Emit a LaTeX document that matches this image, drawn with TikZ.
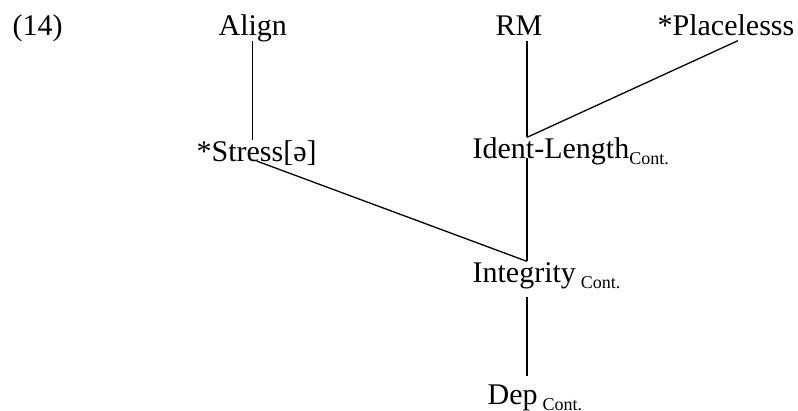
\documentclass[tikz,border=0pt]{standalone}
\usepackage{fontspec}
\setmainfont{Liberation Serif}
\usetikzlibrary{calc}

\newcommand{\cont}{\raisebox{-6pt}{\fontsize{18}{20}\selectfont Cont.}}

\begin{document}
\begin{tikzpicture}[x=1pt,y=-1pt,line width=1.3pt,
	lbl/.style={anchor=base west, inner sep=0pt, text height=20pt, text depth=5pt,
		font=\fontsize{30}{36}\selectfont}]

	\useasboundingbox (0,0) rectangle (798,410);

	\coordinate (trunk) at (527,0);

	\node[lbl] (num) at (12,35) {(14)};
	\node[lbl] (align) at (218,35) {Align};
	\node[lbl] (rm) at (495,35) {RM};
	\node[lbl] (place) at (657,35) {*Placelesss};

	\node[lbl] (stress) at (196,161) {*Stress[ə]};
	\node[lbl] (ident) at (472,158) {Ident-Length\cont};

	\node[lbl] (integrity) at (472,282) {Integrity\,\cont};
	\node[lbl] (dep) at (487,404) {Dep\,\cont};

	\draw (align.south) -- (align.south |- stress.north);
	\draw (rm.south -| trunk) -- (ident.north -| trunk);
	\draw ($(place.south)+(12,0)$) -- (ident.north -| trunk);

	\draw (stress.base) -- (integrity.north -| trunk);
	\draw (ident.base -| trunk) -- (integrity.north -| trunk);
	\draw ($(integrity.south -| trunk)+(0,9)$) -- ($(dep.north -| trunk)+(0,-7)$);

\end{tikzpicture}
\end{document}
